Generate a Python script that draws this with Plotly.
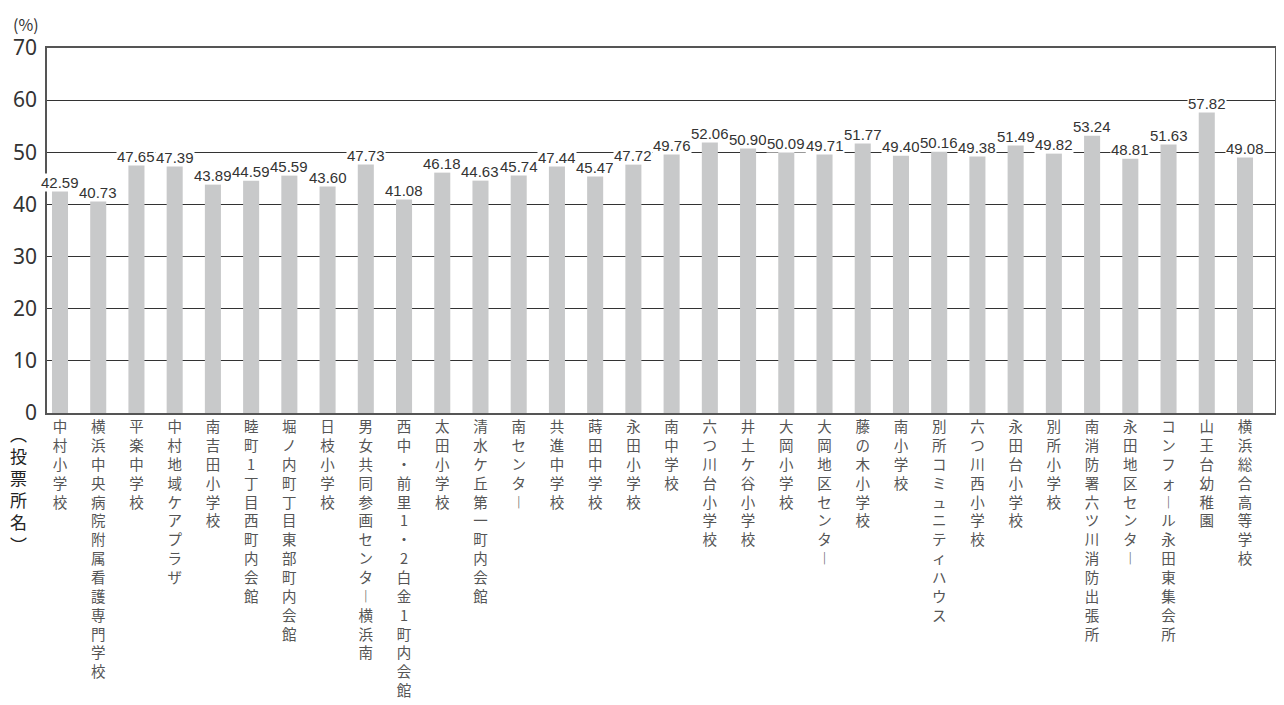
import plotly.graph_objects as go

# 投票所別 投票率
places = [
    "中村小学校", "横浜中央病院附属看護専門学校", "平楽中学校", "中村地域ケアプラザ",
    "南吉田小学校", "睦町1丁目西町内会館", "堀ノ内町丁目東部町内会館", "日枝小学校",
    "男女共同参画センター横浜南", "西中・前里1・2白金1町内会館", "太田小学校",
    "清水ケ丘第一町内会館", "南センター", "共進中学校", "蒔田中学校", "永田小学校",
    "南中学校", "六つ川台小学校", "井土ケ谷小学校", "大岡小学校", "大岡地区センター",
    "藤の木小学校", "南小学校", "別所コミュニティハウス", "六つ川西小学校",
    "永田台小学校", "別所小学校", "南消防署六ツ川消防出張所", "永田地区センター",
    "コンフォール永田東集会所", "山王台幼稚園", "横浜総合高等学校",
]
rates = [
    42.59, 40.73, 47.65, 47.39, 43.89, 44.59, 45.59, 43.60, 47.73, 41.08, 46.18,
    44.63, 45.74, 47.44, 45.47, 47.72, 49.76, 52.06, 50.90, 50.09, 49.71, 51.77,
    49.40, 50.16, 49.38, 51.49, 49.82, 53.24, 48.81, 51.63, 57.82, 49.08,
]
y_ticks = [0, 10, 20, 30, 40, 50, 60, 70]

JP = "Noto Sans CJK JP, sans-serif"
NUM = "Liberation Sans, Arial, sans-serif"


def vertical(s):
    # 縦書き風に1文字ずつ改行
    s = s.replace("ー", "︱")
    return "<br>".join(s)


fig = go.Figure()
fig.add_trace(go.Bar(
    x=places, y=rates,
    marker=dict(color="#c8c9ca", line_width=0),
    width=0.42,
    hoverinfo="x+y",
))

for p, v in zip(places, rates):
    fig.add_annotation(
        x=p, y=v, text=f"{v:.2f}", showarrow=False,
        yanchor="bottom", yshift=-1, bgcolor="white", borderpad=0,
        font=dict(family=NUM, size=15, color="#333"),
    )

fig.add_annotation(
    xref="paper", yref="paper", x=-0.0236, y=-0.208,
    xanchor="center", yanchor="middle",
    text="︵<br>投<br>票<br>所<br>名<br>︶", showarrow=False,
    font=dict(family=JP, size=17, color="#222"),
)
fig.add_annotation(
    xref="paper", yref="paper", x=-0.0295, y=1.105,
    xanchor="left", yanchor="top",
    text="(%)", showarrow=False,
    font=dict(family=JP, size=16, color="#333"),
)

# ページ余白(8px)を見込んだ寸法
fig.update_layout(
    width=1276, height=697,
    margin=dict(l=39, r=9, t=40, b=292),
    paper_bgcolor="white", plot_bgcolor="white",
    showlegend=False,
)
fig.update_xaxes(
    type="category", range=[-0.34, 31.785], automargin=False,
    tickmode="array", tickvals=places, ticktext=[vertical(p) for p in places],
    tickangle=0, tickfont=dict(family=JP, size=14.5, color="#555"),
    showline=True, linecolor="#555", linewidth=1.5, mirror=True,
    showgrid=False, ticks="", layer="below traces",
)
fig.update_yaxes(
    range=[0, 70], tickvals=y_ticks, automargin=False, ticklabelstandoff=4,
    tickfont=dict(family="Noto Sans, sans-serif", size=21, color="#333"),
    showgrid=True, gridcolor="#333", gridwidth=1,
    showline=True, linecolor="#555", linewidth=1.5, mirror=True,
    zeroline=False, ticks="",
)

fig.write_html("out.html")
